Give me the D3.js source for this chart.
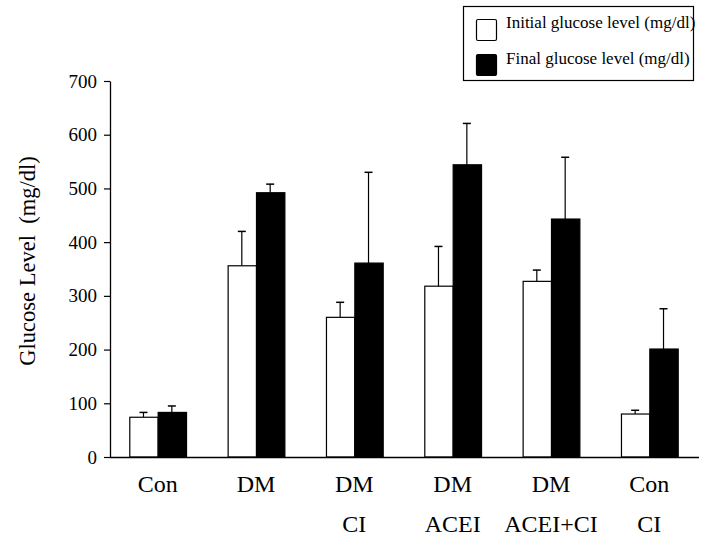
<!DOCTYPE html>
<html>
<head>
<meta charset="utf-8">
<script src="https://cdn.jsdelivr.net/npm/d3@7"></script>
<style>
  html, body { margin: 0; padding: 0; background: #fff; }
  svg { display: block; }
  text { font-family: "Liberation Serif", "Times New Roman", serif; fill: #000; }
</style>
</head>
<body>
<svg id="chart" width="718" height="546"></svg>
<script>
// ---- data ----
const categories = ["Con", "DM", "DM\nCI", "DM\nACEI", "DM\nACEI+CI", "Con\nCI"];
const seriesNames = ["Initial glucose level (mg/dl)", "Final glucose level (mg/dl)"];
const initialMean = [74, 356, 260, 318, 327, 80];
const initialSD   = [9, 64, 28, 74, 21, 7];
const finalMean   = [83, 492, 361, 544, 443, 201];
const finalSD     = [12, 16, 169, 77, 115, 75];
const yTicks = [0, 100, 200, 300, 400, 500, 600, 700];
const yTitle = "Glucose Level  (mg/dl)";

// ---- layout ----
const svg = d3.select("#chart");
const x0 = d3.scaleBand().domain(d3.range(categories.length))
  .range([108.5, 698.5]).paddingInner(0.423).paddingOuter(0.2115);
const keys = ["initial", "final"];
const x1 = d3.scaleBand().domain(keys).range([0, x0.bandwidth()]).padding(0);
const y = d3.scaleLinear().domain([0, 700]).range([457, 81]);

const rows = categories.map((c, i) => ({
  i,
  vals: [
    { key: "initial", mean: initialMean[i], sd: initialSD[i] },
    { key: "final", mean: finalMean[i], sd: finalSD[i] }
  ]
}));
const fill = { initial: "#fff", final: "#000" };

// bars
const g = svg.append("g");
const grp = g.selectAll("g.grp").data(rows).enter().append("g")
  .attr("transform", d => `translate(${x0(d.i)},0)`);

// error bars (upper only)
grp.selectAll("g.err").data(d => d.vals).enter().append("g").each(function(d) {
  const cx = x1(d.key) + x1.bandwidth() / 2;
  const s = d3.select(this);
  s.append("line").attr("x1", cx).attr("x2", cx)
    .attr("y1", y(d.mean)).attr("y2", y(d.mean + d.sd))
    .attr("stroke", "#000").attr("stroke-width", 1.2);
  s.append("line").attr("x1", cx - 4).attr("x2", cx + 4)
    .attr("y1", y(d.mean + d.sd)).attr("y2", y(d.mean + d.sd))
    .attr("stroke", "#000").attr("stroke-width", 1.5);
});

grp.selectAll("rect").data(d => d.vals).enter().append("rect")
  .attr("x", d => x1(d.key) + 0.5)
  .attr("width", x1.bandwidth())
  .attr("y", d => y(d.mean))
  .attr("height", d => y(0) - y(d.mean))
  .attr("fill", d => fill[d.key])
  .attr("stroke", "#000").attr("stroke-width", 1.2);

// y axis
const yAxis = svg.append("g").attr("transform", "translate(110,0)")
  .call(d3.axisLeft(y).tickValues(yTicks).tickSize(6).tickSizeOuter(0).tickPadding(7));
yAxis.attr("font-family", null);
yAxis.select(".domain").attr("stroke", "#000").attr("stroke-width", 1.3);
yAxis.selectAll(".tick line").attr("stroke", "#000").attr("stroke-width", 1.2);
yAxis.selectAll(".tick text")
  .style("font-family", '"Liberation Serif", "Times New Roman", serif')
  .style("font-size", "19px").attr("fill", "#000");

// x axis
const xAxis = svg.append("g").attr("transform", `translate(0,${y(0)})`)
  .call(d3.axisBottom(x0).tickSize(0).tickFormat(""));
xAxis.attr("font-family", null);
xAxis.select(".domain").attr("d", "M110,0.5H699").attr("stroke", "#000").attr("stroke-width", 1.3);
xAxis.selectAll(".tick").each(function(i) {
  const lines = categories[i].split("\n");
  const t = d3.select(this).select("text")
    .attr("y", 0).attr("dy", null)
    .style("font-family", '"Liberation Serif", "Times New Roman", serif')
    .style("font-size", "24px").attr("fill", "#000");
  t.text(null);
  lines.forEach((ln, k) => {
    t.append("tspan").attr("x", 0).attr("y", 35 + k * 40).text(ln);
  });
});

// y title
svg.append("text")
  .attr("transform", "translate(35,261) rotate(-90)")
  .attr("text-anchor", "middle")
  .style("font-size", "22.5px")
  .style("white-space", "pre")
  .attr("xml:space", "preserve")
  .text(yTitle);

// legend
const lg = svg.append("g");
lg.append("rect").attr("x", 463.5).attr("y", 6.5).attr("width", 230).attr("height", 74)
  .attr("fill", "#fff").attr("stroke", "#000").attr("stroke-width", 1.2);
seriesNames.forEach((name, k) => {
  lg.append("rect").attr("x", 476.5).attr("y", 19.5 + k * 35).attr("width", 20).attr("height", 21)
    .attr("rx", 1.5)
    .attr("fill", k === 0 ? "#fff" : "#000").attr("stroke", "#000").attr("stroke-width", 1.2);
  lg.append("text").attr("x", 506).attr("y", 28 + k * 35.5)
    .style("font-size", "17px").text(name);
});
</script>
</body>
</html>
